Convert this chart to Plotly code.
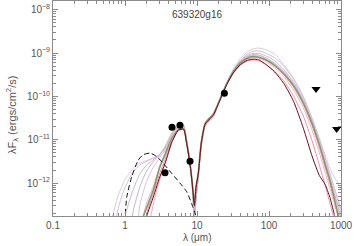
import plotly.graph_objects as go

# ---------------- data ----------------
wave_grid = [0.6, 0.8, 1.0, 1.3, 1.6, 2.0, 2.5, 3.0, 3.6, 4.5, 5.5, 6.5, 7.2, 8.0, 8.6,
             9.2, 9.7, 10.4, 11.5, 13, 15, 17, 19, 22, 26, 32, 40, 50, 60, 72, 90,
             120, 160, 220, 300, 400, 500, 600, 700, 800, 900, 1000]

model_lav1 = [8e-14, 5e-13, 1.2e-12, 2.2e-12, 2.85e-12, 3.3e-12, 3.7e-12, 4.1e-12, 5.5e-12, 1.3e-11,
              2.1e-11, 2.2e-11, 1.0e-11, 3.0e-12, 8e-13, 1.5e-13, 4e-13, 1.4e-12, 7e-12, 2.0e-11,
              2.7e-11, 3.4e-11, 5.5e-11, 1.05e-10, 2.1e-10, 4.3e-10, 7.5e-10, 1.05e-9, 1.25e-9, 1.3e-9,
              1.2e-9, 9.5e-10, 5.5e-10, 2.6e-10, 1.0e-10, 3.0e-11, 1.1e-11, 4.5e-12, 2.2e-12, 1.4e-12,
              1.0e-12, 7e-13]
model_lav2 = [1e-14, 2.5e-13, 8e-13, 1.8e-12, 2.6e-12, 3.2e-12, 3.8e-12, 4.5e-12, 6.5e-12, 1.4e-11,
              2.0e-11, 2.1e-11, 9.5e-12, 3.0e-12, 9e-13, 2.5e-13, 5e-13, 1.5e-12, 8e-12, 2.2e-11,
              2.9e-11, 3.6e-11, 5.6e-11, 1.05e-10, 2.05e-10, 4.0e-10, 6.8e-10, 9.5e-10, 1.1e-9, 1.12e-9,
              1.0e-9, 7.8e-10, 5.0e-10, 2.4e-10, 9.5e-11, 2.9e-11, 1.0e-11, 3.8e-12, 1.6e-12, 8e-13,
              4.5e-13, 2.5e-13]
model_lav3 = [1e-14, 1e-14, 1.7e-13, 7e-13, 1.6e-12, 2.6e-12, 3.5e-12, 4.5e-12, 7e-12, 1.45e-11,
              2.0e-11, 2.05e-11, 9e-12, 2.8e-12, 8e-13, 1.2e-13, 4e-13, 1.3e-12, 7.5e-12, 2.1e-11,
              2.8e-11, 3.5e-11, 5.6e-11, 1.05e-10, 2.0e-10, 3.9e-10, 6.5e-10, 8.8e-10, 9.8e-10, 9.8e-10,
              8.6e-10, 6.6e-10, 4.2e-10, 2.1e-10, 8.5e-11, 2.6e-11, 9e-12, 3.3e-12, 1.3e-12, 6e-13,
              3e-13, 1.6e-13]
model_lav4 = [1e-14, 1e-14, 1e-14, 2.2e-13, 8e-13, 1.9e-12, 3.2e-12, 4.4e-12, 6.5e-12, 1.35e-11,
              1.95e-11, 2.0e-11, 9e-12, 2.9e-12, 9e-13, 2e-13, 5e-13, 1.4e-12, 8e-12, 2.2e-11,
              2.9e-11, 3.6e-11, 5.7e-11, 1.05e-10, 2.0e-10, 3.8e-10, 6.2e-10, 8.3e-10, 9.2e-10, 9.0e-10,
              7.8e-10, 5.8e-10, 3.8e-10, 1.9e-10, 8e-11, 2.5e-11, 8.5e-12, 3e-12, 1.3e-12, 6e-13,
              3e-13, 1.4e-13]
model_lav5 = [1e-14, 1e-14, 1e-14, 1e-14, 3e-13, 1.1e-12, 2.4e-12, 3.8e-12, 6e-12, 1.3e-11,
              1.9e-11, 1.95e-11, 8.8e-12, 2.9e-12, 1e-12, 3e-13, 6e-13, 1.5e-12, 8.5e-12, 2.3e-11,
              3.1e-11, 3.9e-11, 5.9e-11, 1.08e-10, 2.05e-10, 3.8e-10, 6.1e-10, 8.0e-10, 8.8e-10, 8.6e-10,
              7.5e-10, 5.6e-10, 3.7e-10, 1.9e-10, 8.5e-11, 2.8e-11, 1.0e-11, 3.8e-12, 1.7e-12, 8e-13,
              4e-13, 2e-13]
model_pink1 = [1e-14, 1e-14, 1e-14, 1e-14, 8e-14, 3.5e-13, 9e-13, 2.2e-12, 4.2e-12, 1.05e-11,
               1.7e-11, 1.8e-11, 8.2e-12, 2.8e-12, 1e-12, 4e-13, 8e-13, 1.6e-12, 8.8e-12, 2.35e-11,
               3.1e-11, 3.9e-11, 5.9e-11, 1.05e-10, 1.95e-10, 3.6e-10, 5.6e-10, 7.2e-10, 7.8e-10, 7.6e-10,
               6.4e-10, 4.6e-10, 2.9e-10, 1.4e-10, 5.5e-11, 1.6e-11, 5e-12, 1.8e-12, 7.5e-13, 3.5e-13,
               1.7e-13, 8e-14]
model_pink2 = [1e-14, 1e-14, 1e-14, 1e-14, 1e-14, 2e-13, 6e-13, 1.6e-12, 3.5e-12, 9.5e-12,
               1.65e-11, 1.75e-11, 8e-12, 2.7e-12, 9.5e-13, 3.5e-13, 7.5e-13, 1.6e-12, 8.6e-12, 2.3e-11,
               3.0e-11, 3.8e-11, 5.8e-11, 1.02e-10, 1.9e-10, 3.4e-10, 5.2e-10, 6.5e-10, 6.9e-10, 6.6e-10,
               5.4e-10, 3.8e-10, 2.3e-10, 1.0e-10, 3.5e-11, 9e-12, 2.6e-12, 9e-13, 3.5e-13, 1.5e-13,
               7e-14, 3e-14]
model_pink3 = [1e-14, 1e-14, 1e-14, 1e-14, 1e-14, 6e-14, 3.5e-13, 1.1e-12, 2.8e-12, 8.5e-12,
               1.6e-11, 1.7e-11, 7.8e-12, 2.6e-12, 9e-13, 3.5e-13, 7e-13, 1.5e-12, 8.2e-12, 2.25e-11,
               2.95e-11, 3.7e-11, 5.6e-11, 1.0e-10, 1.9e-10, 3.5e-10, 5.6e-10, 7.3e-10, 8.0e-10, 7.9e-10,
               6.8e-10, 5.0e-10, 3.2e-10, 1.6e-10, 6.5e-11, 2.0e-11, 6.5e-12, 2.3e-12, 9.5e-13, 4.2e-13,
               2e-13, 9e-14]
model_green = [1e-14, 1e-14, 1e-14, 1e-14, 1e-13, 2.7e-13, 7.2e-13, 2.2e-12, 4.6e-12, 1.1e-11,
               1.7e-11, 1.8e-11, 8.3e-12, 2.85e-12, 1.0e-12, 3.2e-13, 8.5e-13, 1.67e-12, 9e-12, 2.4e-11,
               3.2e-11, 4.0e-11, 6.0e-11, 1.07e-10, 2.0e-10, 3.7e-10, 5.9e-10, 7.7e-10, 8.3e-10, 8.0e-10,
               7.0e-10, 5.2e-10, 3.35e-10, 1.76e-10, 7.0e-11, 2.26e-11, 7.7e-12, 2.7e-12, 1.15e-12, 4.7e-13,
               2.0e-13, 1.1e-13]
model_best = [1e-14, 1e-14, 1e-14, 1e-14, 3e-14, 1.7e-13, 5e-13, 1.3e-12, 2.85e-12, 9e-12,
              1.65e-11, 1.75e-11, 8e-12, 2.7e-12, 9.5e-13, 3e-13, 8e-13, 1.6e-12, 8.5e-12, 2.3e-11,
              3.0e-11, 3.8e-11, 5.7e-11, 1.0e-10, 1.9e-10, 3.5e-10, 5.4e-10, 6.8e-10, 7.2e-10, 7.0e-10,
              5.5e-10, 3.65e-10, 2.0e-10, 7.6e-11, 1.84e-11, 4e-12, 1.5e-12, 9.4e-13, 4.7e-13, 2.0e-13,
              9e-14, 4e-14]

star_wave = [0.95, 1.0, 1.06, 1.24, 1.53, 1.79, 2.22, 2.75, 3.4, 4.46, 5.8, 7.2, 8.4, 9.4, 10.5]
star_flux = [1e-14, 1.5e-13, 4.8e-13, 1.4e-12, 3.4e-12, 4.5e-12, 4.9e-12, 4.1e-12, 2.85e-12,
             1.67e-12, 1.0e-12, 6.3e-13, 3.4e-13, 2.0e-13, 1.2e-13]

obs_wave = [3.6, 4.5, 5.8, 8.0, 24.0]
obs_flux = [1.73e-12, 1.94e-11, 2.15e-11, 3.2e-12, 1.18e-10]
lim_wave = [450, 870]
lim_flux = [1.48e-10, 1.77e-11]

source_name = "639320g16"
x_tick_vals = [0.1, 1, 10, 100, 1000]
x_tick_text = ["0.1", "1", "10", "100", "1000"]
y_tick_vals = [1e-12, 1e-11, 1e-10, 1e-9, 1e-8]
y_tick_text = ["10<sup>\u221212</sup>", "10<sup>\u221211</sup>", "10<sup>\u221210</sup>",
               "10<sup>\u22129</sup>", "10<sup>\u22128</sup>"]

# ---------------- figure ----------------
FONT = "Liberation Sans, Arial, sans-serif"
fig = go.Figure()

model_styles = [
    (model_lav1, "#dccbdf", 1.0),
    (model_lav2, "#d3c0d6", 1.0),
    (model_lav3, "#cdb8cc", 1.0),
    (model_lav4, "#c9b4c4", 1.0),
    (model_lav5, "#d8c4d8", 1.0),
    (model_pink1, "#f5b3c2", 1.0),
    (model_pink2, "#ef93a6", 1.0),
    (model_pink3, "#f4a6b6", 1.0),
]
for vals, col, w in model_styles:
    fig.add_trace(go.Scatter(x=wave_grid, y=vals, mode="lines",
                             line=dict(color=col, width=w, shape="spline", smoothing=0.6),
                             hoverinfo="skip", showlegend=False))

fig.add_trace(go.Scatter(x=wave_grid, y=model_green, mode="lines",
                         line=dict(color="#8a9674", width=1.6, shape="spline", smoothing=0.6), showlegend=False))
fig.add_trace(go.Scatter(x=wave_grid, y=model_best, mode="lines",
                         line=dict(color="#6a0d1a", width=1.0, shape="spline", smoothing=0.6), showlegend=False))
fig.add_trace(go.Scatter(x=star_wave, y=star_flux, mode="lines",
                         line=dict(color="#111111", width=1.0, dash="5px,3px", shape="spline", smoothing=0.6),
                         showlegend=False))
fig.add_trace(go.Scatter(x=obs_wave, y=obs_flux, mode="markers",
                         marker=dict(color="black", size=7, symbol="circle"), showlegend=False))
fig.add_trace(go.Scatter(x=lim_wave, y=lim_flux, mode="markers",
                         marker=dict(color="black", size=8, symbol="triangle-down"), showlegend=False))

x_minor = [m * 10 ** e for e in range(-1, 3) for m in range(2, 10)]
y_minor = [m * 10.0 ** e for e in range(-13, -7) for m in range(2, 10)]

axis_common = dict(
    showline=True, linecolor="#8a8a8a", linewidth=1, mirror="allticks",
    ticks="inside", ticklen=5, tickcolor="#8a8a8a", tickwidth=1,
    showgrid=False, zeroline=False, automargin=False,
    tickfont=dict(family=FONT, size=10, color="#555555"),
)

fig.update_xaxes(type="log", range=[-1, 3.0], tickvals=x_tick_vals, ticktext=x_tick_text,
                 minor=dict(tickvals=x_minor, ticks="inside", ticklen=3, tickcolor="#8a8a8a", showgrid=False),
                 **axis_common)
fig.update_yaxes(type="log", range=[-12.76, -7.80], tickvals=y_tick_vals, ticktext=y_tick_text,
                 minor=dict(tickvals=y_minor, ticks="inside", ticklen=3, tickcolor="#8a8a8a", showgrid=False),
                 **axis_common)

fig.add_annotation(text=source_name, xref="paper", yref="paper", x=0.5, y=0.935,
                   showarrow=False, xanchor="center", yanchor="middle",
                   font=dict(family=FONT, size=10, color="#444444"))
# axis titles placed as annotations (pixel-matched)
fig.add_annotation(text="\u03bb (\u03bcm)", xref="paper", yref="paper", x=0.5, y=-0.065,
                   showarrow=False, xanchor="center", yanchor="top",
                   font=dict(family=FONT, size=10, color="#555555"))
fig.add_annotation(text="\u03bbF<sub>\u03bb</sub> (ergs/cm<sup>2</sup>/s)", xref="paper", yref="paper",
                   x=-0.142, y=0.47, textangle=-90, showarrow=False, xanchor="center", yanchor="middle",
                   font=dict(family=FONT, size=11, color="#555555"))

fig.update_layout(width=354, height=246, margin=dict(l=53, r=13, t=1, b=30),
                  paper_bgcolor="white", plot_bgcolor="white", showlegend=False)

fig.write_html("out.html", config={"displayModeBar": False},
               post_script="document.body.style.margin='0px';document.body.style.overflow='hidden';")
